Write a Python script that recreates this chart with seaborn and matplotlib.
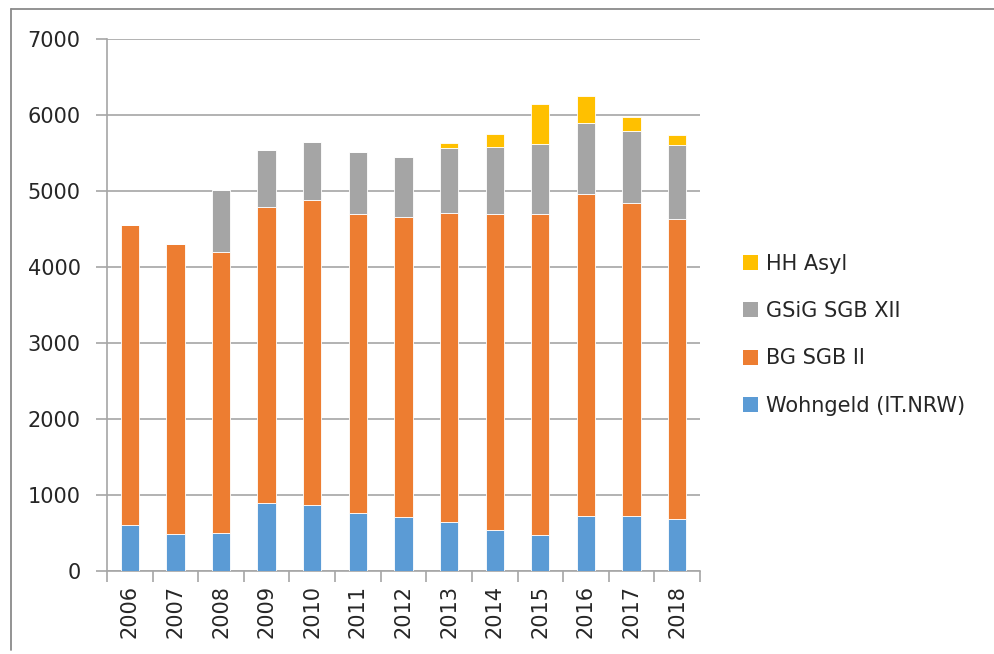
import matplotlib
matplotlib.use("Agg")
import matplotlib.pyplot as plt
from matplotlib.lines import Line2D
from matplotlib.patches import Patch
import seaborn as sns
import pandas as pd
import numpy as np

years = ["2006", "2007", "2008", "2009", "2010", "2011", "2012",
         "2013", "2014", "2015", "2016", "2017", "2018"]
wohngeld = [610, 495, 505, 895, 865, 760, 710, 650, 545, 475, 730, 730, 690]
bg_sgb2 = [3945, 3805, 3695, 3895, 4015, 3930, 3945, 4055, 4145, 4215, 4230, 4110, 3935]
gsig_sgb12 = [0, 0, 805, 740, 755, 825, 790, 860, 890, 925, 925, 940, 975]
hh_asyl = [0, 0, 0, 0, 0, 0, 0, 65, 170, 520, 355, 185, 135]

series_names = ["Wohngeld (IT.NRW)", "BG SGB II", "GSiG SGB XII", "HH Asyl"]
series_values = [wohngeld, bg_sgb2, gsig_sgb12, hh_asyl]
series_colors = ["#5B9BD5", "#ED7D31", "#A5A5A5", "#FFC000"]

sns.set_theme(style="white")
plt.rcParams["font.family"] = ["DejaVu Sans"]

FS = 15
TXT = "#262626"

fig = plt.figure(figsize=(9.95, 6.54), dpi=100)
ax = fig.add_axes([0.1075, 0.1265, 0.596, 0.8145])

bottom = np.zeros(len(years))
for name, vals, col in zip(series_names, series_values, series_colors):
    df = pd.DataFrame({"year": years, "value": vals})
    sns.barplot(data=df, x="year", y="value", order=years, color=col,
                width=0.4, bottom=bottom.copy(), ax=ax,
                edgecolor="white", linewidth=0.6, saturation=1, zorder=3)
    bottom += np.array(vals, dtype=float)

grid_col = "#A6A6A6"
ax.set_ylim(0, 7000)
ax.set_xlim(-0.5, len(years) - 0.5)
ax.set_yticks(range(0, 7001, 1000))
ax.yaxis.grid(True, color=grid_col, linewidth=1.2, zorder=0)
ax.xaxis.grid(False)

for s in ["top", "right"]:
    ax.spines[s].set_visible(False)
for s in ["left", "bottom"]:
    ax.spines[s].set_color(grid_col)
    ax.spines[s].set_linewidth(1.2)

ax.set_xlabel("")
ax.set_ylabel("")
ax.set_xticks(range(len(years)))
ax.set_xticklabels(years, rotation=90, fontsize=FS, color=TXT)
ax.set_xticks(np.arange(-0.5, len(years), 1.0), minor=True)
ax.tick_params(axis="x", which="major", length=0, pad=10)
ax.tick_params(axis="x", which="minor", length=8, width=1.2, color=grid_col,
               direction="out", bottom=True)
ax.tick_params(axis="y", which="major", length=8, width=1.2, color=grid_col,
               direction="out", left=True, labelsize=FS, labelcolor=TXT,
               pad=11)

handles = [Patch(facecolor=c, edgecolor="none", label=n)
           for n, c in zip(series_names, series_colors)][::-1]
fig.legend(handles=handles, loc="center left", bbox_to_anchor=(0.728, 0.488),
           frameon=False, fontsize=FS, handlelength=0.72, handleheight=0.72,
           handletextpad=0.38, labelspacing=1.31, labelcolor=TXT)

# thin frame along the top and left edges of the figure
fig.add_artist(Line2D([11 / 995, 1.0], [1 - 8.5 / 654, 1 - 8.5 / 654],
                      transform=fig.transFigure, color="#8a8a8a", lw=1.3))
fig.add_artist(Line2D([11 / 995, 11 / 995], [1 - 8.5 / 654, 1 - 650 / 654],
                      transform=fig.transFigure, color="#8a8a8a", lw=1.3))

fig.savefig("out.png", dpi=100)
